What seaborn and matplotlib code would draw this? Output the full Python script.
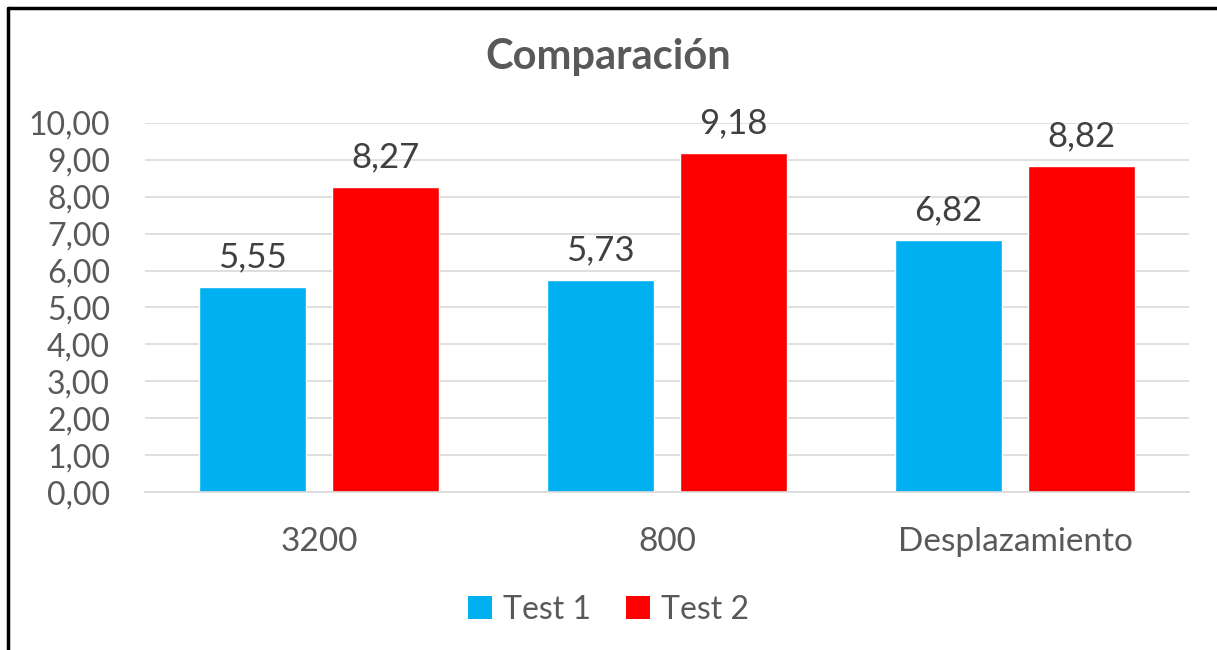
import matplotlib
matplotlib.use("Agg")
import matplotlib.pyplot as plt
import seaborn as sns
import pandas as pd
from matplotlib.ticker import FuncFormatter, MultipleLocator
from matplotlib.lines import Line2D
from matplotlib.patches import Patch

categories = ["3200", "800", "Desplazamiento"]
series_names = ["Test 1", "Test 2"]
test1 = [5.55, 5.73, 6.82]
test2 = [8.27, 9.18, 8.82]
colors = ["#00B0F0", "#FF0000"]
title = "Comparación"

df = pd.DataFrame({
    "cat": categories * 2,
    "serie": [series_names[0]] * 3 + [series_names[1]] * 3,
    "val": test1 + test2,
})

sns.set_style("white")
plt.rcParams["font.family"] = ["Lato", "DejaVu Sans"]
txt = "#595959"

fig = plt.figure(figsize=(12.17, 6.5), dpi=100)
ax = fig.add_axes([0.119, 0.243, 0.858, 0.568])

sns.barplot(data=df, x="cat", y="val", hue="serie", palette=colors,
            width=0.767, gap=0.2, ax=ax, legend=False, saturation=1)

ax.set_ylim(0, 10)
ax.yaxis.set_major_locator(MultipleLocator(1))
ax.yaxis.set_major_formatter(FuncFormatter(lambda v, p: f"{v:.2f}".replace(".", ",")))
ax.grid(axis="y", color="#D9D9D9", linewidth=1.2)
ax.set_axisbelow(True)
for s in ["top", "right", "left"]:
    ax.spines[s].set_visible(False)
ax.spines["bottom"].set_color("#D9D9D9")
ax.spines["bottom"].set_linewidth(1.2)
ax.tick_params(axis="y", labelsize=23, labelcolor=txt, length=0, pad=25)
ax.tick_params(axis="x", labelsize=24, labelcolor=txt, length=0, pad=25)
ax.set_xlabel("")
ax.set_ylabel("")

for cont in ax.containers:
    labels = [f"{b.get_height():.2f}".replace(".", ",") for b in cont]
    ax.bar_label(cont, labels=labels, fontsize=25, color="#404040", padding=10)

fig.text(0.5, 0.912, title, ha="center", va="center", fontsize=30,
         fontweight="bold", color=txt)

handles = [Patch(facecolor=c, edgecolor="none") for c in colors]
fig.legend(handles, series_names, loc="center", bbox_to_anchor=(0.5, 0.062),
           ncol=2, frameon=False, fontsize=23, labelcolor=txt,
           handlelength=0.75, handleheight=0.75, handletextpad=0.35, columnspacing=1.1)

fig.add_artist(Line2D([0.0066, 1.0], [0.988, 0.988], transform=fig.transFigure,
                      color="black", linewidth=2.5))
fig.add_artist(Line2D([0.0066, 0.0066], [0.0, 0.988], transform=fig.transFigure,
                      color="black", linewidth=2.5))

fig.savefig("out.png", dpi=100)
